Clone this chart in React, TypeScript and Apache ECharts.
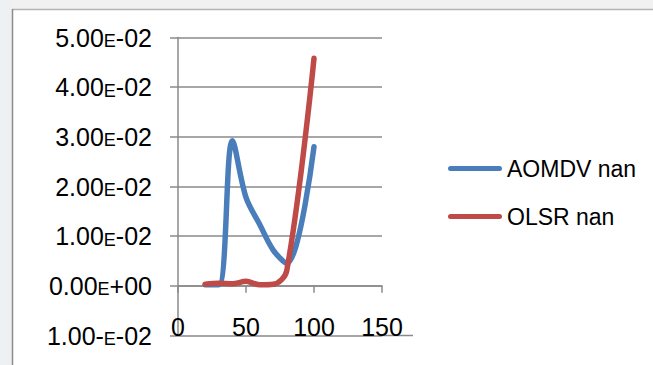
import React, { useEffect, useRef } from "react";
import * as echarts from "echarts";

// Simulation x positions and the two measured curves
const xValues = [20, 30, 40, 50, 60, 70, 80, 100];
const aomdvValues = [0.0002, 0.0002, 0.0292, 0.0178, 0.0124, 0.0072, 0.0045, 0.028];
const olsrValues = [0.0003, 0.0005, 0.0004, 0.0009, 0.0002, 0.0003, 0.0031, 0.0458];

const seriesNames = ["AOMDV nan", "OLSR nan"];
const seriesColors = ["#4a7ebb", "#be4b48"];

// Y tick labels from -0.01 up to 0.05
const yTickLabels = [
  "1.00-E-02",
  "0.00E+00",
  "1.00E-02",
  "2.00E-02",
  "3.00E-02",
  "4.00E-02",
  "5.00E-02",
];
const yMin = -0.01;
const yMax = 0.05;
const yStep = 0.01;

const xMin = 0;
const xMax = 150;
const xStep = 50;

const FONT = "Liberation Sans, Arial, sans-serif";
const AXIS_GRAY = "#8a8a8a";

function pairs(values: number[]) {
  return xValues.map((x, i) => [x, values[i]]);
}

function richLabel(text: string) {
  const idx = text.indexOf("E");
  if (idx < 0) return `{d|${text}}`;
  return `{d|${text.slice(0, idx)}}{e|E}{d|${text.slice(idx + 1)}}`;
}

export default function App() {
  const ref = useRef<HTMLDivElement>(null);

  useEffect(() => {
    if (!ref.current) return;
    const chart = echarts.init(ref.current, undefined, { renderer: "svg" });

    const lineSeries = [aomdvValues, olsrValues].map((vals, i) => ({
      name: seriesNames[i],
      type: "line",
      data: pairs(vals),
      smooth: 0.35,
      showSymbol: false,
      symbol: "none",
      color: seriesColors[i],
      lineStyle: { width: 5.5, color: seriesColors[i], cap: "round", join: "round" },
      z: 3 + i,
    }));

    chart.setOption({
      animation: false,
      backgroundColor: "#ffffff",
      grid: {
        left: 178,
        right: 271,
        top: 37.5,
        bottom: 29.5,
        containLabel: false,
        outerBoundsMode: "none",
      },
      legend: {
        orient: "vertical",
        left: 443,
        top: 152,
        itemWidth: 54,
        itemHeight: 5,
        itemGap: 25,
        icon: "path://M2.5,0 L51.5,0 A2.5,2.5 0 0 1 51.5,5 L2.5,5 A2.5,2.5 0 0 1 2.5,0 Z",
        textStyle: { fontFamily: FONT, fontSize: 23, color: "#000", padding: [0, 0, 0, 0] },
        data: seriesNames,
      },
      xAxis: {
        type: "value",
        min: xMin,
        max: xMax,
        interval: xStep,
        axisLine: { show: true, onZero: true, lineStyle: { color: AXIS_GRAY, width: 1.5 } },
        axisTick: { show: true, length: 7, lineStyle: { color: AXIS_GRAY, width: 1.5 } },
        splitLine: { show: false },
        axisLabel: {
          margin: -21,
          fontFamily: FONT,
          fontSize: 25,
          color: "#000",
        },
      },
      yAxis: {
        type: "value",
        min: yMin,
        max: yMax,
        interval: yStep,
        axisLine: { show: true, onZero: false, lineStyle: { color: AXIS_GRAY, width: 1.5 } },
        axisTick: { show: true, length: 8, lineStyle: { color: AXIS_GRAY, width: 1.5 } },
        splitLine: { show: true, lineStyle: { color: AXIS_GRAY, width: 1.5 } },
        axisLabel: {
          margin: 26,
          formatter: (v: number) => {
            const i = Math.round((v - yMin) / yStep);
            return richLabel(yTickLabels[i] ?? "");
          },
          rich: {
            d: { fontFamily: FONT, fontSize: 25, color: "#000" },
            e: { fontFamily: FONT, fontSize: 18, color: "#000", verticalAlign: "bottom" },
          },
        },
      },
      graphic: [
        // hazy surroundings outside the chart frame
        { type: "rect", shape: { x: 0, y: 0, width: 653, height: 9 }, style: { fill: "#f2f1f2" }, silent: true },
        { type: "rect", shape: { x: 0, y: 0, width: 12, height: 365 }, style: { fill: "#eef1f3" }, silent: true },
        // chart frame
        { type: "line", shape: { x1: 12, y1: 9.5, x2: 653, y2: 9.5 }, style: { stroke: "#b4b4b4", lineWidth: 1.5 }, silent: true },
        { type: "line", shape: { x1: 12.5, y1: 9, x2: 12.5, y2: 365 }, style: { stroke: "#8c8c8c", lineWidth: 1.5 }, silent: true },
        // bottom rule carried beyond the last tick label
        { type: "line", shape: { x1: 382, y1: 335.5, x2: 413, y2: 335.5 }, style: { stroke: AXIS_GRAY, lineWidth: 1.5 }, silent: true },
      ],
      series: lineSeries,
    });

    return () => chart.dispose();
  }, []);

  return (
    <div
      ref={ref}
      style={{ position: "fixed", left: 0, top: 0, width: 653, height: 365, background: "#fff" }}
    />
  );
}
